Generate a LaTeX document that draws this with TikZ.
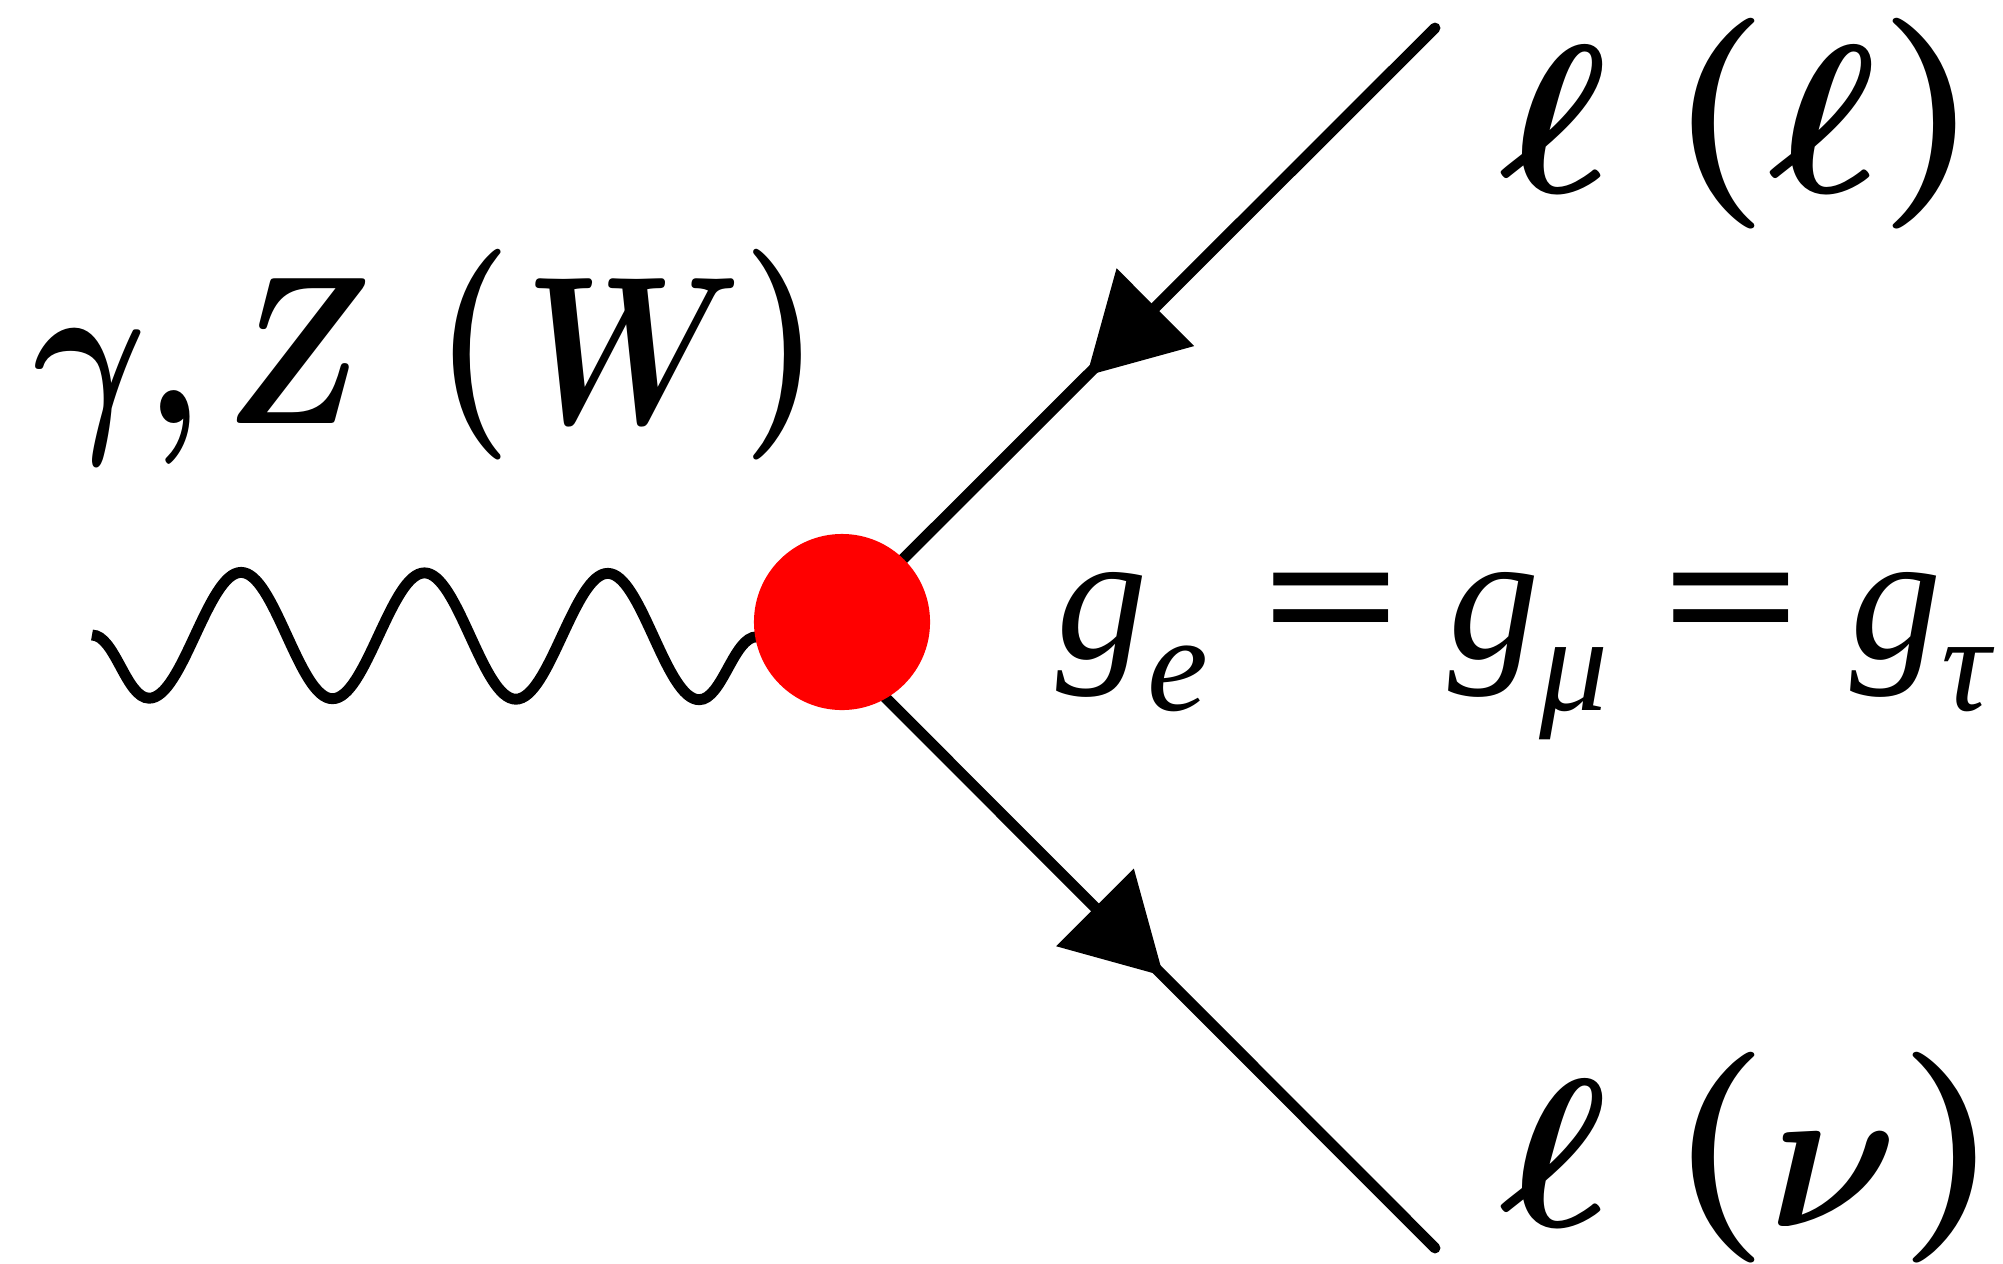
\documentclass[tikz,border=0pt]{standalone}
\usepackage{fontspec}
\newfontfamily\lserif{Liberation Serif}
\usetikzlibrary{arrows.meta,decorations.pathmorphing,decorations.markings}
\newcommand\gsub[1]{\raisebox{-14.8pt}{\fontsize{39}{41}\selectfont #1}}
\newcommand\eqbar{{\upshape\bfseries\scalebox{1.35}[1]{=}}}
\newcommand\lpar{\raisebox{0.75pt}{$($}}
\newcommand\rpar{\raisebox{0.75pt}{$)$}}
\tikzset{
  wave/.style={line width=3.1pt, decorate,
    decoration={snake, mirror, segment length=1.8325cm, amplitude=0.63cm}},
  fermion/.style={line width=3.1pt, line cap=round,
    postaction={decorate, decoration={markings,
      mark=at position #1 with {\arrow{Triangle[length=0.97cm,width=1.07cm]}}}}},
  vertexdot/.style={circle, fill=red, draw=none, minimum size=1.76cm, inner sep=0pt},
  lbl/.style={anchor=base west, inner sep=0pt, outer sep=0pt}
}
\begin{document}
\begin{tikzpicture}[x=0.01cm,y=-0.01cm]
\useasboundingbox (0,0) rectangle (2003,1263);
\coordinate (ws) at (92,635);
\coordinate (v) at (825,637);
\coordinate (tl) at (1435,28);
\coordinate (bl) at (1435,1248);
\draw[wave] (ws) -- (v);
\draw[fermion=0.571] (tl) -- (v);
\draw[fermion=0.555] (v) -- (bl);
\node[vertexdot] (vx) at (842,622) {};
\node[lbl] (boson) at (33,423) {\scalebox{4.95}[6.0]{\boldmath$\gamma,\kern-0.6pt Z\kern3.6pt\lpar\kern0.7pt W\rpar$}};
\node[lbl] (lin) at (1500,192) {\scalebox{6.5}[6.0]{\boldmath$\ell\kern2.6pt\lpar\ell\rpar$}};
\node[lbl] (lout) at (1500,1226) {\scalebox{6.5}[6.0]{\boldmath$\ell\kern2.6pt\lpar\scalebox{0.87}[1]{$\nu$}\rpar$}};
\node[lbl] (coup) at (1056,658) {\lserif\fontsize{52}{54}\selectfont
  \itshape g\gsub{e}\hspace{15pt}\eqbar\hspace{13.3pt}g\gsub{μ}\hspace{15pt}\eqbar\hspace{13.6pt}g\gsub{τ}};
\end{tikzpicture}
\end{document}
